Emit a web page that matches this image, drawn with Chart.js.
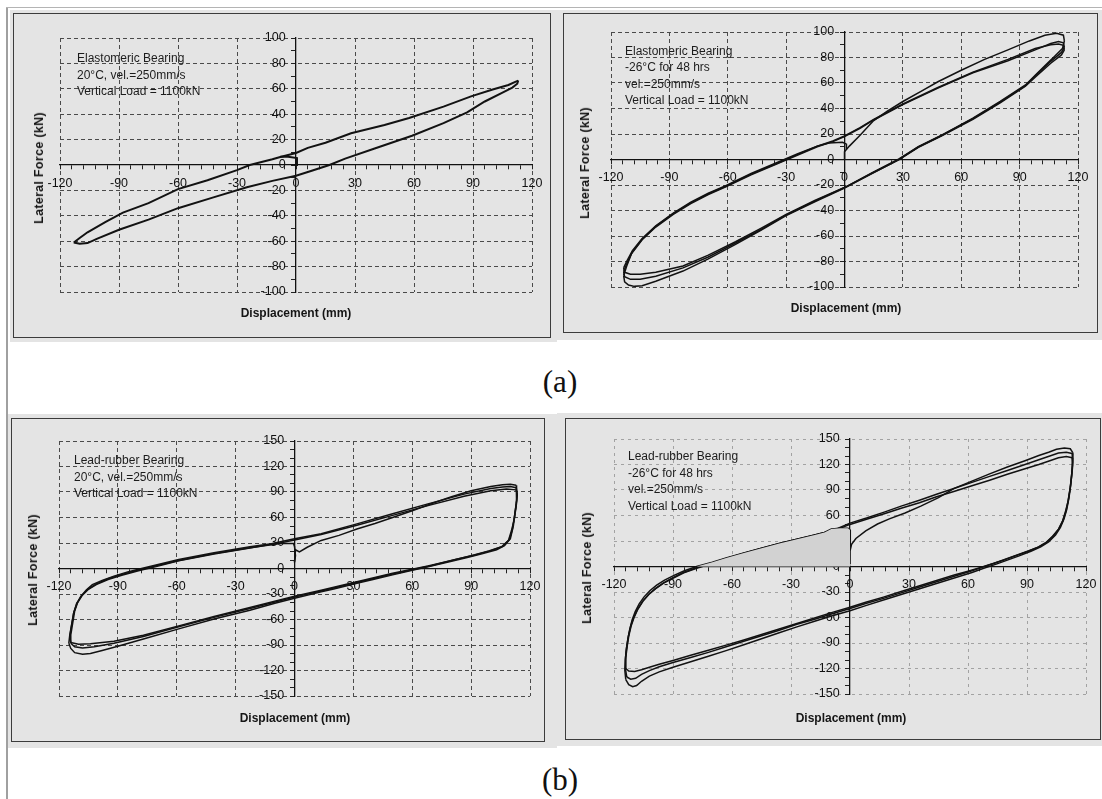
<!DOCTYPE html>
<html>
<head>
<meta charset="utf-8">
<script src="https://cdn.jsdelivr.net/npm/chart.js@4.4.1/dist/chart.umd.min.js"></script>
<style>
  body { margin:0; width:1102px; height:799px; overflow:hidden; background:#fff; position:relative; font-family:"Liberation Sans", Arial, sans-serif; }
  .frame-v { position:absolute; left:6px; top:7px; width:2px; height:792px; background:#a0a0a0; }
  .frame-h { position:absolute; left:6px; top:7px; width:1096px; height:1px; background:#b4b4b4; }
  .gray { position:absolute; background:#e4e4e4; }
  .box { position:absolute; border:1.5px solid #3c3c3c; box-sizing:border-box; }
  canvas { position:absolute; }
  .note { position:absolute; font-size:12px; line-height:16.5px; color:#1c1c1c; white-space:nowrap; }
  .xt { position:absolute; font-weight:bold; font-size:12px; color:#151515; white-space:nowrap; transform:translate(-50%,-50%); }
  .yt { position:absolute; font-weight:bold; font-size:12.5px; color:#151515; white-space:nowrap; letter-spacing:0.3px; transform:translate(-50%,-50%) rotate(-90deg); }
  .lab { position:absolute; font-family:"Liberation Serif","Times New Roman",serif; font-size:31px; color:#111; transform:translate(-50%,-50%); }
</style>
</head>
<body>
<div class="frame-v"></div>
<div class="frame-h"></div>
<div id="root"></div>
<script>
// ---- values (x = displacement mm, y = lateral force kN)

const xTicks = [-120, -90, -60, -30, 0, 30, 60, 90, 120];
const yTicksA = [-100, -80, -60, -40, -20, 0, 20, 40, 60, 80, 100];
const yTicksB = [-150, -120, -90, -60, -30, 0, 30, 60, 90, 120, 150];

// (a) left: elastomeric, 20 C
const el20_start = [[0,0],[0.5,5.5],[-4,6.5],[-8,6.5]];
const el20_load = [[-113,-61],[-110,-57.5],[-106,-53],[-97,-45],[-88,-37.5],[-75,-30],[-60,-19],[-45,-12],[-30,-4],[-23.5,0],[-12,4.5],[-8,6.3],[-5,7.5],[0,9.5],[6,13.5],[15,17.5],[28,25],[45,31.5],[57.5,37],[75,46],[89,54],[100,59.5],[108,63],[111.5,65.5],[113,66.5]];
const el20_unload = [[113,66.5],[112.5,64],[110,61],[105,57],[96,50],[87,41.5],[75,33],[59,23],[40,13],[25,5],[17,0],[8,-4.5],[0,-8.5],[-12,-12.5],[-25,-17.5],[-42,-25.5],[-60,-34],[-75,-43],[-90,-51],[-101,-58],[-106,-61.5],[-110,-62],[-113,-61]];

// (a) right: elastomeric, -26 C for 48 hrs
const er26_init = [[0,0],[0,6],[2.5,10.5],[8,19],[15,30.5],[22,38],[30,45.5],[40,54],[48,61],[60,70],[72,78.5],[84,86],[95,93],[103,97.5],[109,99],[112.5,97.5],[113,93]];
const er26_dn1 = [[113,93],[112,87],[108,81],[104,75],[98,66],[93,58.5],[80,45.5],[66,32.5],[50,19],[38,10],[28,0],[14,-11],[0,-22.5],[-15,-33],[-30,-44],[-43,-55.5],[-56,-66.5],[-70,-78],[-83,-87.5],[-97,-95.5],[-104,-99],[-108,-99.5],[-111,-98.5],[-113,-96],[-113.5,-91]];
const er26_up1 = [[-113.5,-91],[-112,-84],[-109.5,-74],[-104,-63],[-97,-53],[-88,-43],[-79,-34.5],[-70,-27.5],[-61,-21.5],[-48,-12],[-34,-3],[-24,3.5],[-14,10],[-6,14],[0,18],[8,24.5],[15,31],[30,43],[48,56],[66,68],[84,77.5],[98,86],[106,91],[110,92.5],[112.5,91.5],[113,88]];
const er26_dn2 = [[113,88],[111.5,84],[106,77],[98,65.5],[93,58],[80,45],[66,32],[50,19],[38,10],[28,0.5],[14,-10.5],[0,-22],[-15,-32.5],[-30,-43.5],[-43,-55],[-56,-65.5],[-70,-76.5],[-83,-85],[-97,-91.5],[-105,-94],[-110,-94],[-113,-92],[-113.5,-88]];
const er26_up2 = [[-113.5,-88],[-112,-82],[-109,-72.5],[-104,-62.5],[-97,-52.5],[-88,-42.5],[-79,-34],[-70,-27],[-61,-21],[-48,-11.5],[-34,-2.5],[-24,4],[-14,10.5],[-6,14.5],[0,18.5],[8,25],[15,31.5],[30,43.5],[48,56.5],[66,68.5],[84,78.5],[98,87],[106,90],[110,90.5],[112.5,89.5],[113,86]];
const er26_dn3 = [[113,86],[111.5,82],[106,75.5],[98,64.5],[93,57.5],[80,44.5],[66,31.5],[50,18.5],[38,9.5],[28,0],[14,-11],[0,-22],[-15,-32],[-30,-43],[-43,-54],[-56,-64.5],[-70,-75],[-83,-83.5],[-97,-88.5],[-105,-90],[-110,-90],[-113,-88.5],[-113.5,-85]];
const er26_up3 = [[-113.5,-85],[-112,-80],[-109,-71.5],[-104,-62],[-97,-52],[-88,-42],[-79,-33.5],[-70,-26.5],[-61,-20.5],[-48,-11],[-34,-2],[-24,4.5],[-14,10.5],[-8,13],[-1,13.5],[1,12],[1,8]];

// (b) left: lead-rubber, 20 C
const lr20_init = [[0,7],[0.5,22],[2.5,19.5],[6.5,25],[13.6,33],[22.7,39],[31.8,46.5],[41,53],[50,60],[60,68],[70,76.5],[80,84.5],[90,91.5],[100,96.5],[106,98.5],[110,99],[113,98]];
const lr20_dn1 = [[113,98],[113.3,92],[113,80],[112.5,68],[111.5,50],[110,35],[107,27],[103,22],[96,17.5],[88,13],[80,8.5],[68,2],[60,-2],[50,-7.5],[40,-13],[31.8,-17.5],[20,-24],[13.6,-27.5],[0,-35],[-10,-41],[-22.7,-49],[-41,-59.5],[-59,-71],[-77,-83],[-90,-91.5],[-98,-96.5],[-104,-100],[-108,-101],[-112,-99],[-114,-94],[-115,-88]];
const lr20_up1 = [[-115,-88],[-114.5,-78],[-113.5,-65],[-112.5,-52],[-111,-42],[-109,-33],[-106,-25],[-103,-19],[-98,-14],[-92,-9],[-85,-4],[-79,-0.5],[-70,4.5],[-59,10.5],[-41,18.5],[-22.7,25.5],[-11.8,29],[0,35],[13.6,41],[31.8,52.5],[50,64.5],[68,76],[86.4,87.5],[100,94],[106,96],[110,96.5],[113,95]];
const lr20_dn2 = [[113,95],[113.5,88],[113,76],[112,60],[111,46],[109.5,34],[106,26],[100,21],[92,16],[82,10.5],[70,3.5],[60,-1.5],[50,-6.5],[31.8,-16.5],[13.6,-26.5],[0,-33.5],[-22.7,-47],[-41,-57.5],[-59,-68.5],[-77,-80],[-92,-88],[-102,-92],[-108,-93.5],[-112,-92],[-114,-88]];
const lr20_up2 = [[-114,-88],[-114,-78],[-113,-64],[-112,-50],[-110.5,-40],[-108,-31],[-105,-24],[-101,-18],[-95,-12],[-88,-7],[-80,-2],[-70,3.5],[-59,9.5],[-41,17.5],[-22.7,24.5],[-11.8,28],[0,33.5],[13.6,40],[31.8,51],[50,62.5],[68,74],[86.4,85],[100,91.5],[108,93.5],[113,92.5]];
const lr20_dn3 = [[113,92.5],[113.5,86],[113,74],[112,58],[110.5,44],[109,33],[105.5,25.5],[99,20.5],[90,15],[80,9.5],[68,3],[50,-5.5],[31.8,-15.5],[13.6,-25.5],[0,-32.5],[-22.7,-46],[-41,-56.5],[-59,-67.5],[-77,-78.5],[-92,-85.5],[-104,-88.5],[-110,-89],[-114,-87]];
const lr20_up3 = [[-114,-87],[-114.5,-80],[-113.5,-66],[-112.5,-52],[-111,-41],[-108.5,-32],[-105,-24.5],[-101,-19],[-95,-13],[-88,-8],[-80,-3],[-70,2.5],[-59,9],[-41,17],[-22.7,24],[-11.8,28.5],[-6,29.5],[-0.5,29.5],[0,26],[0.5,15],[0,8]];

// (b) right: lead-rubber, -26 C for 48 hrs
const lr26_init = [[0,3],[0,18],[0.8,26],[3,33],[8,42],[14,50],[20,56],[28,63],[36,71],[45,81],[53,92],[62,100.5],[71,109],[80,117],[89,124.5],[96,130.5],[101,134.5],[105,138],[109,139.5],[112,138.5],[113.3,134]];
const lr26_dn1 = [[113.3,134],[113.2,124],[112.8,110],[112.2,95],[111.3,80],[110.2,67],[108.8,56],[107,46],[104.5,37],[101,29],[97,23],[92,18],[86,12.5],[80,7.5],[74,2.5],[68,-2],[62,-7],[53,-13.5],[44,-20],[35,-26.5],[26,-33],[17,-39.5],[8,-46],[0,-52],[-9,-58],[-18,-64.5],[-27,-71],[-36,-78],[-45,-85],[-54,-92],[-63,-99],[-72,-105.5],[-81,-112],[-90,-118.5],[-97,-124],[-102,-129],[-106,-135],[-108.5,-140],[-110.5,-141.5],[-112.5,-139],[-114,-133]];
const lr26_up1 = [[-114,-133],[-114.5,-122],[-114.2,-108],[-113.5,-94],[-112.7,-82],[-111.5,-70],[-110,-60],[-108,-50],[-105.5,-41],[-102.5,-33],[-99,-26],[-95,-19.5],[-90,-13],[-84.7,-7],[-78,-1.5],[-70,4],[-63,9.5],[-54,15.5],[-45,21.5],[-36,27],[-27,32],[-18,37],[-13,40],[-6,45],[0,51],[8.4,57],[17.4,64],[26,71],[35.3,78],[44,85],[53.2,92],[62,99],[71,106],[80,113],[89,120],[96,125.5],[101.6,130],[106,133.5],[110,134.5],[113,133]];
const lr26_dn2 = [[113,133],[113.2,122],[112.7,108],[112,93],[111,78],[109.8,65],[108.3,54],[106.3,44.5],[103.5,36],[100,28.5],[96,23],[91,18.5],[85,13.5],[79,8.5],[73,3.5],[67,-1],[62,-5],[53,-11.5],[44,-18],[35,-24.5],[26,-31],[17,-37.5],[8,-43.5],[0,-49.5],[-9,-55.5],[-18,-62],[-27,-68],[-36,-75],[-45,-81.5],[-54,-88],[-63,-94.5],[-72,-101],[-81,-107],[-90,-113],[-97,-118],[-102,-122.5],[-106,-127],[-109,-131.5],[-111.5,-132.5],[-113.5,-130]];
const lr26_up2 = [[-113.5,-130],[-114.2,-120],[-114,-107],[-113.3,-94],[-112.5,-82],[-111.3,-70],[-109.8,-60],[-107.8,-50],[-105.3,-41],[-102.3,-33],[-98.8,-26],[-94.8,-19.5],[-89.8,-13.5],[-84.5,-7.5],[-78,-2],[-70,3.5],[-63,9],[-54,15],[-45,21],[-36,26.5],[-27,31.5],[-18,36.5],[-13,39.5],[-6,44],[0,49.5],[8.4,55.5],[17.4,62],[26,68.5],[35.3,75],[44,82],[53.2,88.5],[62,95],[71,101.5],[80,108.5],[89,115],[96,120],[101.6,124.5],[106,128],[110,129.5],[113,128]];
const lr26_dn3 = [[113,128],[113.2,118],[112.6,104],[111.8,90],[110.8,76],[109.5,64],[108,53],[106,44],[103,35.5],[99.5,28],[95,22],[90,17.5],[84,12.5],[78,7.5],[72,3],[66,-1.5],[60,-5.5],[53,-10],[44,-16.5],[35,-23],[26,-29.5],[17,-36],[8,-42],[0,-48],[-9,-54],[-18,-60.5],[-27,-67],[-36,-73.5],[-45,-80],[-54,-86.5],[-63,-92.5],[-72,-98.5],[-81,-104.5],[-90,-110.5],[-97,-115],[-102,-118.5],[-106,-121.5],[-109.5,-123.5],[-112.5,-123],[-114,-120]];
const lr26_up3 = [[-114,-120],[-114.2,-110],[-113.8,-98],[-113,-86],[-112,-74],[-110.8,-63],[-109.2,-53],[-107.2,-44],[-104.8,-36],[-101.8,-28.5],[-98.3,-22],[-94.3,-16],[-89.5,-10.5],[-84.2,-5],[-78,0],[-70,5],[-63,10],[-54,16],[-45,21.5],[-36,27],[-27,32],[-18,37],[-13,40],[-9.5,44],[-5,45],[-1,45],[0,43],[0.3,30],[0,22]];

// shaded area under the last loading branch (from where it crosses zero to x = 0)
const lr26_shade = lr26_up3.slice(lr26_up3.findIndex(p => p[1] >= 0), lr26_up3.findIndex(p => p[0] >= 0) + 1).concat([[0, 0]]);

const notes = [
  ['Elastomeric Bearing', '20°C, vel.=250mm/s', 'Vertical Load = 1100kN'],
  ['Elastomeric Bearing', '-26°C for 48 hrs', 'vel.=250mm/s', 'Vertical Load = 1100kN'],
  ['Lead-rubber Bearing', '20°C, vel.=250mm/s', 'Vertical Load = 1100kN'],
  ['Lead-rubber Bearing', '-26°C for 48 hrs', 'vel.=250mm/s', 'Vertical Load = 1100kN']
];

// ---- layout of the four scanned panels
const panels = [
  { gray:[10,10,557,342], box:[13,13,551,338], plot:[60,38,532,292], note:[77,50], xt:[296,313], yt:[39,168],
    curves:[el20_start, el20_load, el20_unload], yMax:100, yTicks:yTicksA, width:2, grid:'#4a4a4a', dash:[4,3] },
  { gray:[557,10,1102,340], box:[563,13,1098,333], plot:[611,32,1078,287], note:[625,42.5], xt:[846,308], yt:[585,163],
    curves:[er26_init, er26_dn1, er26_up1, er26_dn2, er26_up2, er26_dn3, er26_up3], yMax:100, yTicks:yTicksA, width:1.5, grid:'#4a4a4a', dash:[4,3] },
  { gray:[8,414,557,748], box:[11,418,545,742], plot:[59,441,530,696], note:[74,452], xt:[295,718], yt:[33,570],
    curves:[lr20_init, lr20_dn1, lr20_up1, lr20_dn2, lr20_up2, lr20_dn3, lr20_up3], yMax:150, yTicks:yTicksB, width:1.5, grid:'#4a4a4a', dash:[4,3] },
  { gray:[557,413,1102,746], box:[565,418,1101,740], plot:[614,439,1086,694], note:[628,448], xt:[851,718], yt:[587,568],
    curves:[lr26_init, lr26_dn1, lr26_up1, lr26_dn2, lr26_up2, lr26_dn3, lr26_up3], yMax:150, yTicks:yTicksB, width:1.5, grid:'#a2a2a2', dash:[3,4],
    shade:lr26_shade }
];

const root = document.getElementById('root');
const PAD = 30;

function addDiv(cls, css, html) {
  const d = document.createElement('div');
  d.className = cls;
  Object.assign(d.style, css);
  if (html) d.innerHTML = html;
  root.appendChild(d);
  return d;
}

function toXY(list) {
  return list.map(p => ({ x: p[0], y: p[1] }));
}

Chart.defaults.font.family = '"Liberation Sans", Arial, sans-serif';

panels.forEach((p, i) => {
  addDiv('gray', { left: p.gray[0] + 'px', top: p.gray[1] + 'px', width: (p.gray[2] - p.gray[0]) + 'px', height: (p.gray[3] - p.gray[1]) + 'px' });
  addDiv('box', { left: p.box[0] + 'px', top: p.box[1] + 'px', width: (p.box[2] - p.box[0]) + 'px', height: (p.box[3] - p.box[1]) + 'px' });

  const cv = document.createElement('canvas');
  const w = p.plot[2] - p.plot[0] + 2 * PAD;
  const h = p.plot[3] - p.plot[1] + 2 * PAD;
  cv.width = w; cv.height = h;
  cv.style.left = (p.plot[0] - PAD) + 'px';
  cv.style.top = (p.plot[1] - PAD) + 'px';
  cv.style.width = w + 'px';
  cv.style.height = h + 'px';
  root.appendChild(cv);

  addDiv('note', { left: p.note[0] + 'px', top: p.note[1] + 'px' }, notes[i].join('<br>'));
  addDiv('xt', { left: p.xt[0] + 'px', top: p.xt[1] + 'px' }, 'Displacement (mm)');
  addDiv('yt', { left: p.yt[0] + 'px', top: p.yt[1] + 'px' }, 'Lateral Force (kN)');

  const datasets = [];
  if (p.shade) {
    datasets.push({ data: toXY(p.shade), showLine: true, pointRadius: 0, borderWidth: 0,
      borderColor: 'transparent', backgroundColor: '#d2d2d2', fill: 'origin' });
  }
  p.curves.forEach(c => {
    datasets.push({ data: toXY(c), showLine: true, pointRadius: 0, borderColor: '#121212',
      borderWidth: p.width, fill: false });
  });

  new Chart(cv, {
    type: 'scatter',
    data: { datasets },
    options: {
      responsive: false,
      animation: false,
      devicePixelRatio: 1,
      layout: { padding: PAD },
      plugins: { legend: { display: false }, tooltip: { enabled: false } },
      scales: {
        x: {
          type: 'linear', min: -120, max: 120, position: { y: 0 },
          afterFit: s => { s.height = 0; },
          ticks: { stepSize: 6, autoSkip: false, maxRotation: 0, padding: 7, color: '#111',
            font: { size: 12.5 }, callback: v => xTicks.includes(v) ? String(v) : '' },
          grid: { color: c => (c.tick && xTicks.includes(c.tick.value) && c.tick.value !== 0) ? p.grid : 'transparent',
            tickColor: '#222', tickLength: 4, lineWidth: 1 },
          border: { display: true, color: '#111', width: 1.3, dash: p.dash }
        },
        y: {
          type: 'linear', min: -p.yMax, max: p.yMax, position: { x: 0 },
          afterFit: s => { s.width = 0; },
          ticks: { stepSize: 10, autoSkip: false, color: '#111', font: { size: 12.5 },
            callback: v => p.yTicks.includes(v) ? String(v) + '   ' : '' },
          grid: { color: c => (c.tick && p.yTicks.includes(c.tick.value) && c.tick.value !== 0) ? p.grid : 'transparent',
            tickColor: '#222', tickLength: 4, lineWidth: 1 },
          border: { display: true, color: '#111', width: 1.3, dash: p.dash }
        }
      }
    }
  });
});

addDiv('lab', { left: '560px', top: '382px' }, '(a)');
addDiv('lab', { left: '560px', top: '780px' }, '(b)');
</script>
</body>
</html>
